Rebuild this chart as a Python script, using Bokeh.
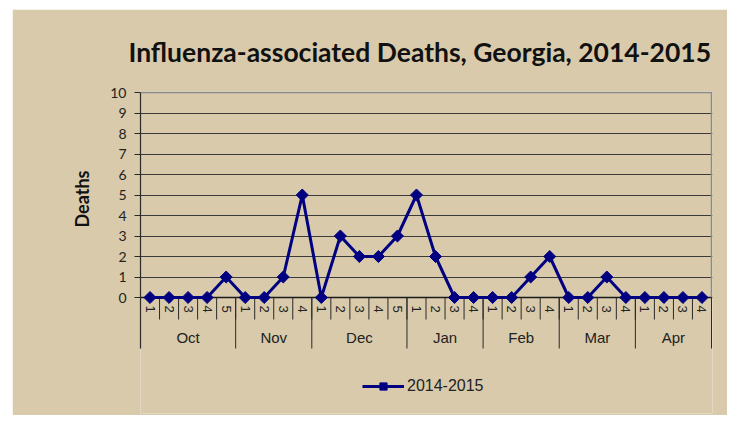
import math
from bokeh.plotting import figure
from bokeh.layouts import column, row
from bokeh.models import (Range1d, FixedTicker, Grid, Legend, LegendItem, Title,
                          ColumnDataSource, Spacer)
from bokeh.core.properties import value
from bokeh.embed import file_html
from bokeh.resources import INLINE

# ---------------- data ----------------
months = ["Oct", "Nov", "Dec", "Jan", "Feb", "Mar", "Apr"]
weeks_per_month = [5, 4, 5, 4, 4, 4, 4]
week_labels = ["1", "2", "3", "4", "5",
               "1", "2", "3", "4",
               "1", "2", "3", "4", "5",
               "1", "2", "3", "4",
               "1", "2", "3", "4",
               "1", "2", "3", "4",
               "1", "2", "3", "4"]
deaths = [0, 0, 0, 0, 1,
          0, 0, 1, 5,
          0, 3, 2, 2, 3,
          5, 2, 0, 0,
          0, 0, 1, 2,
          0, 0, 1, 0,
          0, 0, 0, 0]
series_name = "2014-2015"
y_ticks = [0, 1, 2, 3, 4, 5, 6, 7, 8, 9, 10]
title_text = "Influenza-associated Deaths, Georgia, 2014-2015"
y_label = "Deaths"

# ---------------- derived positions ----------------
n = len(deaths)
x = list(range(1, n + 1))
week_bounds = [i + 0.5 for i in range(n + 1)]
month_bounds = [0.5]
for w in weeks_per_month:
    month_bounds.append(month_bounds[-1] + w)
month_centers = [(a + b) / 2 for a, b in zip(month_bounds[:-1], month_bounds[1:])]

BG = "#D8CAAB"
NAVY = "#000080"
DARK = "#2a2a2a"
GRAY = "#8a8a8a"

PX_X = 571 / n          # pixels per category
PX_Y = 205 / 10         # pixels per death
# offsets (in pixels below the zero line) of the category-axis pieces
WEEK_LABEL_TOP = 8 / PX_Y
WEEK_SEP = 22 / PX_Y
MONTH_LABEL_MID = 40 / PX_Y
MONTH_SEP = 51 / PX_Y

p = figure(width=715, height=406, output_backend="svg", toolbar_location=None,
           x_range=Range1d(0.5, n + 0.5 + 1 / PX_X),
           y_range=Range1d(-116 / PX_Y, y_ticks[-1] + 1 / PX_Y),
           x_axis_location=None,
           min_border_left=128, min_border_right=15,
           min_border_top=82, min_border_bottom=2,
           background_fill_color=BG, border_fill_color=BG,
           outline_line_color=None)
for g in p.xgrid:
    g.visible = False

# spacer between title and plot, then the title (outermost)
p.add_layout(Title(text=" ", text_font_size="6.5px"), "above")
p.add_layout(Title(text=title_text, align="left", offset=-12, text_font="Lato",
                   text_font_style="bold", text_font_size="26.5px",
                   text_color="#111111"), "above")

# ---------------- y axis ----------------
ya = p.yaxis[0]
ya.ticker = FixedTicker(ticks=y_ticks)
ya.bounds = (-MONTH_SEP, y_ticks[-1])
ya.major_label_text_font = "Lato"
ya.major_label_text_font_size = "14px"
ya.major_label_text_color = "#222222"
ya.major_label_standoff = 8
ya.major_tick_out = 6
ya.major_tick_in = 0
ya.major_tick_line_color = DARK
ya.minor_tick_line_color = None
ya.axis_line_color = DARK
ya.axis_line_width = 1.2
# blank axis label used only as a gap before the axis title
ya.axis_label = " "
ya.axis_label_text_font_size = "1px"
ya.axis_label_standoff = 6

p.add_layout(Title(text=y_label, align="left", offset=186, text_font="Lato",
                   text_font_style="bold", text_font_size="18px",
                   text_color="#111111"), "left")

# ---------------- grids ----------------
p.ygrid.ticker = FixedTicker(ticks=y_ticks[1:-1])
p.ygrid.grid_line_color = "#3a3a3a"
p.ygrid.grid_line_width = 1.2
p.add_layout(Grid(dimension=1, ticker=FixedTicker(ticks=[y_ticks[-1]]),
                  grid_line_color=GRAY, grid_line_width=1.5))
p.add_layout(Grid(dimension=1, ticker=FixedTicker(ticks=[y_ticks[0]]),
                  grid_line_color="#1a1a1a", grid_line_width=1.6))
# right edge of the plot area
p.segment(x0=[week_bounds[-1]], y0=[y_ticks[0]], x1=[week_bounds[-1]], y1=[y_ticks[-1]],
          line_color=GRAY, line_width=1.5)

# ---------------- category axis (weeks within months) ----------------
p.segment(x0=week_bounds, y0=[0] * len(week_bounds), x1=week_bounds,
          y1=[-WEEK_SEP] * len(week_bounds), line_color=DARK, line_width=1)
p.segment(x0=month_bounds, y0=[0] * len(month_bounds), x1=month_bounds,
          y1=[-MONTH_SEP] * len(month_bounds), line_color=DARK, line_width=1)
p.text(x=x, y=[-WEEK_LABEL_TOP] * n, text=week_labels, angle=-math.pi / 2,
       text_align="left", text_baseline="middle",
       text_font=value("Liberation Sans"), text_font_size=value("13px"),
       text_color="#222222")
p.text(x=month_centers, y=[-MONTH_LABEL_MID] * len(months), text=months,
       text_align="center", text_baseline="middle",
       text_font=value("Liberation Sans"), text_font_size=value("15px"),
       text_color="#222222")

# ---------------- series ----------------
src = ColumnDataSource(dict(x=x, deaths=deaths))
line_r = p.line("x", "deaths", source=src, line_color=NAVY, line_width=3)
pts_r = p.scatter("x", "deaths", source=src, marker="square", angle=math.pi / 4,
                  size=8.5, fill_color=NAVY, line_color=NAVY)

legend = Legend(items=[LegendItem(label=series_name, renderers=[line_r, pts_r])],
                location=(222, 18), orientation="horizontal",
                glyph_width=42, glyph_height=18, label_standoff=3,
                label_text_font="Liberation Sans", label_text_font_size="16px",
                label_text_color="#222222",
                background_fill_alpha=0, border_line_alpha=0,
                padding=0, margin=0)
p.add_layout(legend)

layout = column(Spacer(height=9), row(Spacer(width=12), p))
open("out.html", "w").write(file_html(layout, INLINE))
